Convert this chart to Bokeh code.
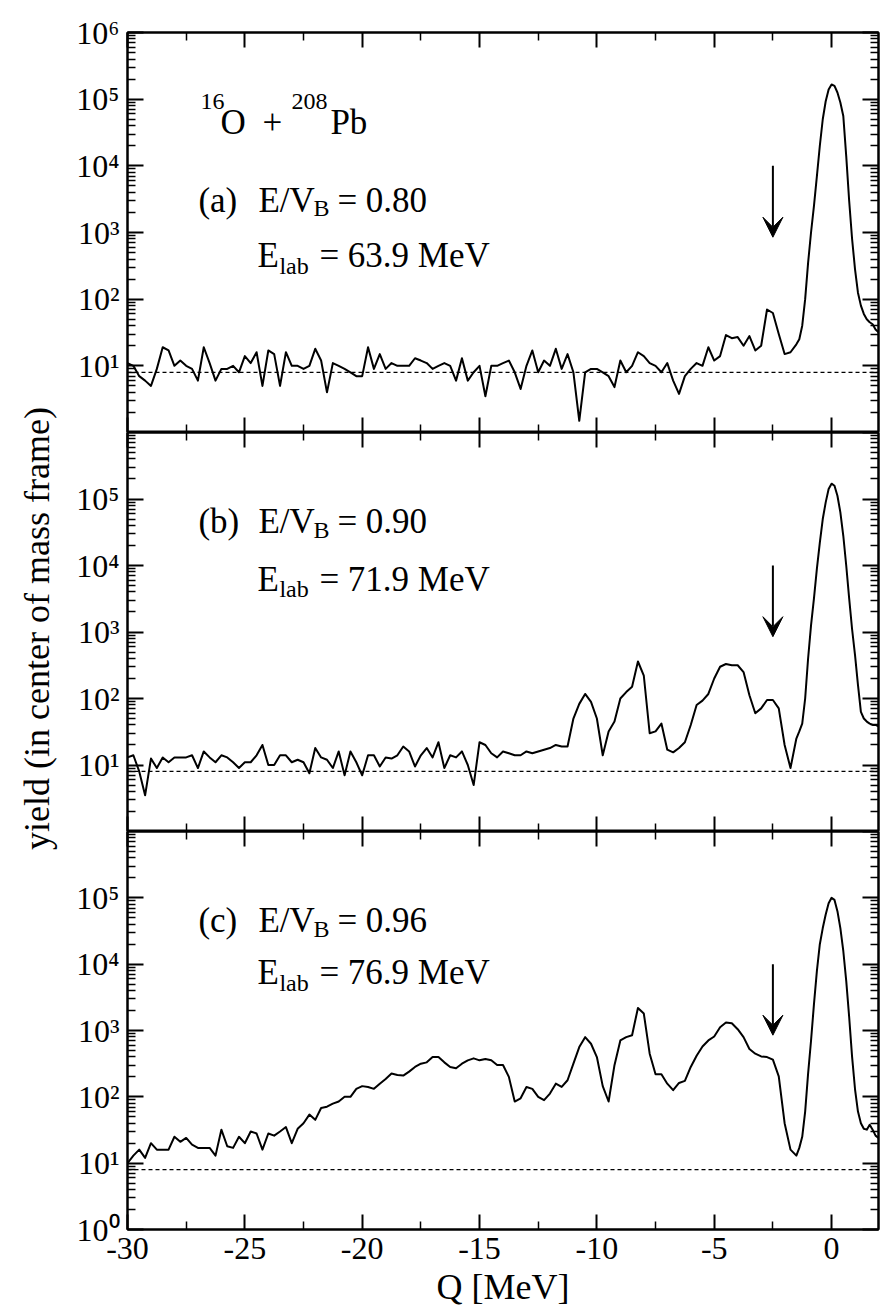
import numpy as np
from bokeh.plotting import figure
from bokeh.models import (Range1d, FixedTicker, LogAxis, LinearAxis,
                          CustomJSTickFormatter, Span, Arrow, VeeHead, Label)
from bokeh.layouts import column, row
from bokeh.core.properties import value
from bokeh.embed import file_html
from bokeh.resources import INLINE

# ---------------- data ----------------
q_coarse = np.arange(-30.0, -1.74, 0.25)
q_fine = np.arange(-1.5, 2.001, 0.125)
Q = np.concatenate([q_coarse, q_fine])

yield_a = [
    11, 10, 7, 6,
    5, 9, 19, 17,
    10, 12, 10, 9,
    6, 19, 11, 6,
    9, 9, 10, 8,
    14, 11, 16, 5,
    17, 15, 5, 16,
    10, 10, 9, 10,
    18, 12, 4, 11,
    10, 9, 8, 7,
    7, 19, 9, 15,
    9, 11, 10, 10,
    10, 13, 12, 11,
    9, 10, 11, 10,
    6, 13, 6, 8,
    10, 3.5, 10, 10,
    11, 12, 8, 4.5,
    10, 17, 8, 12,
    10, 18, 9, 15,
    8, 1.5, 8, 9,
    9, 8, 7, 4.8,
    12, 8, 10, 16,
    14, 11, 10, 8,
    11, 6, 3.8, 7,
    9, 11, 10, 19,
    12, 14, 29, 26,
    27, 20, 28, 17,
    20, 70, 62, 30,
    15, 16,
    21, 25, 40, 100, 350, 1000, 2500, 7000, 20000, 50000,
    93000, 140000, 166000, 158000, 126000, 89000, 56000, 14000, 3000, 800,
    280, 125, 80, 60, 50, 45, 42, 35, 32,
]

yield_b = [
    13, 14, 8, 3.5,
    12.5, 9, 13, 11,
    13, 13, 13, 14,
    9, 16, 13, 11,
    14, 13, 11, 9,
    11, 11, 14, 20,
    10, 10, 14, 14,
    11, 12, 11, 7.5,
    18, 13, 12, 9,
    16, 7, 16, 11,
    7, 14, 14, 9.5,
    13, 12.5, 14, 19,
    16, 9.5, 14, 18,
    13, 22, 9, 14,
    13, 16, 10, 5,
    22, 20, 15, 13,
    16, 15, 14, 14,
    16, 15, 16, 17,
    18, 20, 19, 19,
    50, 83, 117, 89,
    50, 14, 32, 45,
    100, 125, 150, 360,
    220, 30, 32, 42,
    17, 15.5, 18, 22,
    40, 80, 93, 117,
    200, 300, 330, 316,
    316, 250, 112, 60,
    71, 95, 95, 71,
    20, 9,
    25, 32, 42, 100, 400, 1260, 3200, 9000, 22000, 50000,
    89000, 141000, 170000, 158000, 112000, 63000, 28000, 10000, 3200, 1100,
    450, 160, 63, 50, 45, 42, 40, 40, 38,
]

yield_c = [
    10, 13, 16, 12,
    20, 16, 16, 16,
    25, 21, 24, 19,
    17, 17, 17, 13,
    32, 18, 17, 25,
    20, 30, 28, 16,
    28, 26, 30, 35,
    20, 33, 40, 54,
    45, 68, 71, 79,
    85, 100, 100, 132,
    145, 141, 132, 158,
    186, 224, 214, 209,
    240, 282, 316, 331,
    398, 398, 331, 282,
    269, 316, 355, 380,
    355, 372, 355, 302,
    302, 200, 85, 95,
    141, 132, 100, 89,
    112, 158, 141, 178,
    316, 562, 794, 631,
    398, 145, 85, 300,
    708, 794, 850, 2190,
    1800, 447, 219, 219,
    158, 126, 162, 174,
    282, 417, 575, 708,
    813, 1122, 1318, 1288,
    1047, 794, 525, 447,
    407, 398, 363, 204,
    40, 16,
    13, 17, 25, 60, 224, 700, 2500, 7900, 20000, 35000,
    56000, 83000, 100000, 93000, 63000, 35000, 15800, 5600, 1600, 400,
    130, 60, 40, 33, 32, 38, 32, 26, 24,
]

for _name, _arr in (("a", yield_a), ("b", yield_b), ("c", yield_c)):
    if len(_arr) != len(Q):
        raise ValueError(f"panel {_name}: {len(_arr)} values vs {len(Q)} Q points")

x_major = [-30, -25, -20, -15, -10, -5, 0]
x_minor = [-27.5, -22.5, -17.5, -12.5, -7.5, -2.5]
y_decades = [1, 10, 100, 1e3, 1e4, 1e5, 1e6]
y_minor = [k * 10.0 ** n for n in range(6) for k in range(2, 10)]

reference_level = 8
arrow_q = -2.5
arrow_top, arrow_tip = 1.0e4, 850

panel_labels = ["(a)", "(b)", "(c)"]
ratios = ["0.80", "0.90", "0.96"]
elabs = ["63.9 MeV", "71.9 MeV", "76.9 MeV"]
label_ticks = [[10, 100, 1e3, 1e4, 1e5, 1e6],
               [10, 100, 1e3, 1e4, 1e5],
               [1, 10, 100, 1e3, 1e4, 1e5]]
y_title = "yield (in center of mass frame)"
x_title = "Q [MeV]"

# ---------------- styling ----------------
FONT = "'Liberation Serif'"

LAB_W = 60
W = 820
LEFT = 67
FRAME_H = [400, 399, 398]
TOP = 32
BOTTOM = 83
TEXT_LIFT = 12

sup_fmt = CustomJSTickFormatter(code="""
const s = ['\\u2070','\\u00b9','\\u00b2','\\u00b3','\\u2074','\\u2075','\\u2076'];
return '10' + s[Math.round(Math.log10(tick))];
""")
blank_fmt = CustomJSTickFormatter(code="return '';")
int_fmt = CustomJSTickFormatter(code="return tick.toFixed(0);")


def style_axis(ax, major_in, minor_in, labels=True):
    ax.axis_line_width = 2
    ax.axis_line_color = "black"
    ax.major_tick_line_width = 2
    ax.minor_tick_line_width = 1.5
    ax.major_tick_line_color = "black"
    ax.minor_tick_line_color = "black"
    ax.major_tick_in = major_in
    ax.major_tick_out = 0
    ax.minor_tick_in = minor_in
    ax.minor_tick_out = 0
    ax.major_label_text_color = "black"
    ax.major_label_text_font = FONT
    if labels:
        ax.major_label_text_font_size = "32px"
        ax.major_label_standoff = 8
    else:
        ax.major_label_text_font_size = "0px"
        ax.major_label_standoff = 0
        ax.formatter = blank_fmt


def add_text(p, x, y, text, size, dx=0, dy=0):
    p.add_layout(Label(x=x, y=y, x_offset=dx, y_offset=dy + TEXT_LIFT, text=text,
                       text_font=FONT, text_font_size=f"{size}px",
                       text_color="black", text_baseline="alphabetic"))


figs = []
for i in range(3):
    top = TOP if i == 0 else 0
    bottom = BOTTOM if i == 2 else 0
    p = figure(width=W, height=FRAME_H[i] + top + bottom,
               x_range=Range1d(-30, 2), y_range=Range1d(1, 1e6),
               y_axis_type="log", output_backend="svg", toolbar_location=None,
               min_border_left=LEFT, min_border_right=W - LEFT - 751,
               min_border_top=top, min_border_bottom=bottom)
    p.xgrid.visible = False
    p.ygrid.visible = False
    p.outline_line_color = "black"
    p.outline_line_width = 2

    yl = p.yaxis[0]
    yl.ticker = FixedTicker(ticks=label_ticks[i], minor_ticks=y_minor)
    yl.formatter = sup_fmt
    style_axis(yl, 16, 8)
    yr = LogAxis(ticker=FixedTicker(ticks=y_decades, minor_ticks=y_minor))
    style_axis(yr, 16, 8, labels=False)
    p.add_layout(yr, "right")

    xb = p.xaxis[0]
    xb.ticker = FixedTicker(ticks=x_major, minor_ticks=x_minor)
    xb.formatter = int_fmt
    style_axis(xb, 15, 8, labels=(i == 2))
    xt = LinearAxis(ticker=FixedTicker(ticks=x_major, minor_ticks=x_minor))
    style_axis(xt, 15, 8, labels=False)
    p.add_layout(xt, "above")

    p.add_layout(Span(location=reference_level, dimension="width",
                      line_color="black", line_width=1.3, line_dash="4 3"))
    p.line(Q, [yield_a, yield_b, yield_c][i], line_color="black",
           line_width=2, line_join="round")

    p.add_layout(Arrow(end=VeeHead(size=20, line_color="black", fill_color="black",
                                   line_width=1),
                       x_start=arrow_q, y_start=arrow_top,
                       x_end=arrow_q, y_end=arrow_tip,
                       line_color="black", line_width=2))

    ax_q = -26.98
    if i == 0:
        y_nuc, y_r2, y_r3 = 30000, 2000, 295
        add_text(p, ax_q, y_nuc, "16", 24, dx=2, dy=21)
        add_text(p, ax_q, y_nuc, "O", 35, dx=22)
        add_text(p, ax_q, y_nuc, "+", 35, dx=64)
        add_text(p, ax_q, y_nuc, "208", 24, dx=93, dy=21)
        add_text(p, ax_q, y_nuc, "Pb", 35, dx=132)
    elif i == 1:
        y_r2, y_r3 = 30000, 4100
    else:
        y_r2, y_r3 = 30000, 4900
    add_text(p, ax_q, y_r2, panel_labels[i], 35, dx=0)
    add_text(p, ax_q, y_r2, "E/V", 35, dx=60)
    add_text(p, ax_q, y_r2, "B", 24, dx=115, dy=-8)
    add_text(p, ax_q, y_r2, "= " + ratios[i], 35, dx=139)
    add_text(p, ax_q, y_r3, "E", 35, dx=59)
    add_text(p, ax_q, y_r3, "lab", 24, dx=81, dy=-10)
    add_text(p, ax_q, y_r3, "= " + elabs[i], 35, dx=121)

    if i == 2:
        xb.axis_label = x_title
        xb.axis_label_text_font = FONT
        xb.axis_label_text_font_size = "36px"
        xb.axis_label_text_font_style = "normal"
        xb.axis_label_text_color = "black"
        xb.axis_label_standoff = 5
    figs.append(p)

# left strip carrying the shared y-axis title
total_h = sum(FRAME_H) + TOP + BOTTOM
lab = figure(width=LAB_W, height=total_h, x_range=Range1d(0, 1), y_range=Range1d(0, 1),
             output_backend="svg", toolbar_location=None,
             x_axis_location=None, y_axis_location=None, min_border=0)
lab.xgrid.visible = False
lab.ygrid.visible = False
lab.outline_line_color = None
lab.text(x=[36 / LAB_W], y=[1 - 628 / total_h], text=[y_title], angle=np.pi / 2,
         text_align="center", text_baseline="middle", text_color="black",
         text_font=value(FONT), text_font_size=value("36px"))

layout = row(lab, column(*figs, spacing=0), spacing=0)

with open("out.html", "w", encoding="utf-8") as f:
    f.write(file_html(layout, INLINE))
